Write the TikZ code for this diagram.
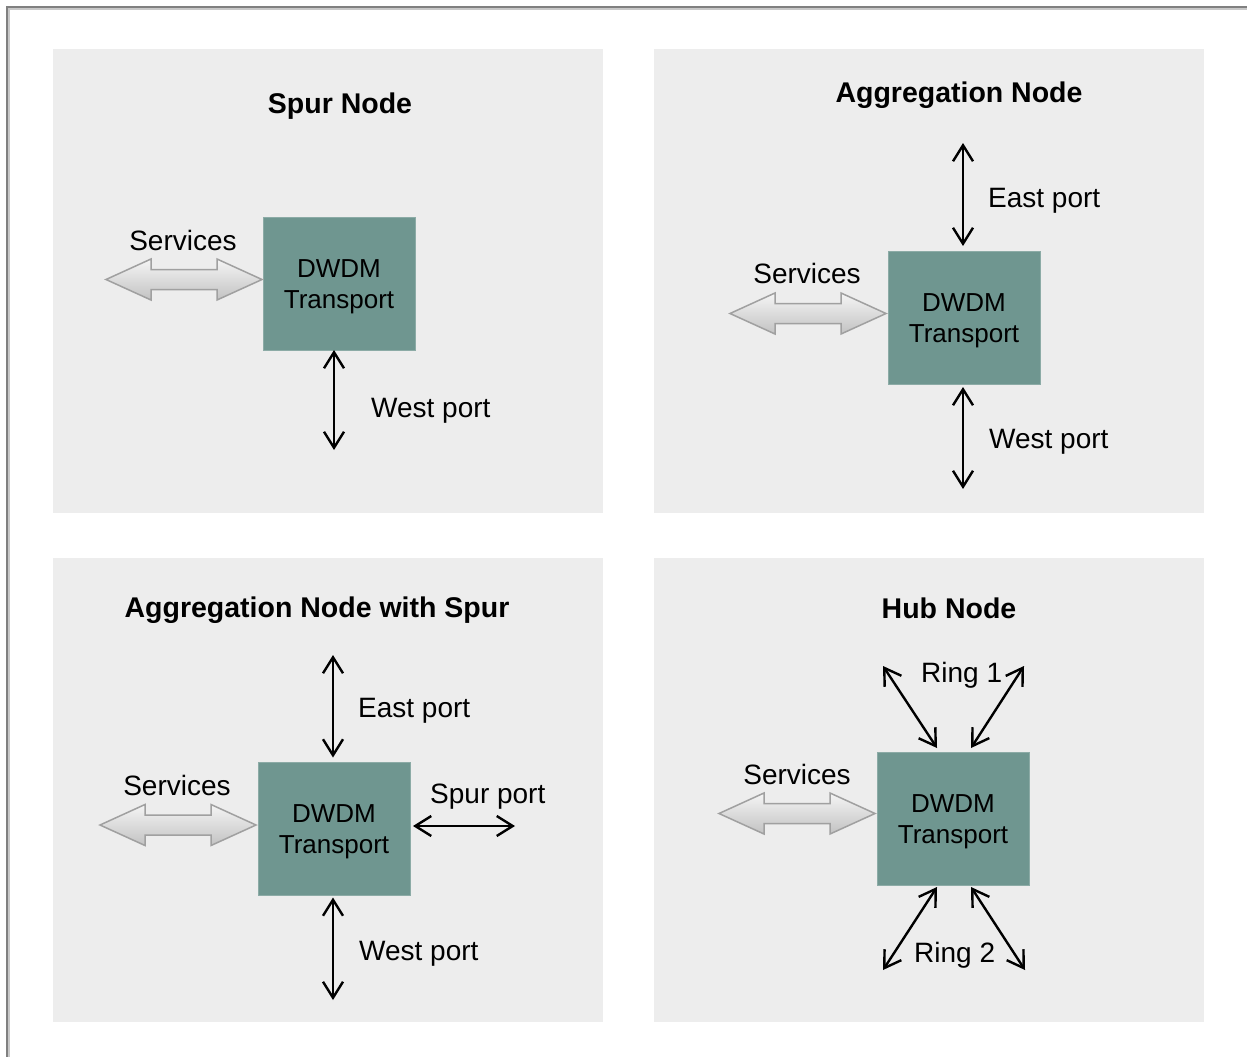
\documentclass[tikz,border=0pt]{standalone}
\usepackage{fontspec}
\setmainfont{Liberation Sans}
\usetikzlibrary{arrows.meta,calc}

\definecolor{panelgray}{HTML}{EDEDED}
\definecolor{dwdm}{HTML}{6F9690}
\definecolor{dwdmedge}{HTML}{8CABA6}
\definecolor{framedark}{HTML}{808080}
\definecolor{framelight}{HTML}{C8C8C8}
\definecolor{svcedge}{HTML}{A0A0A0}
\definecolor{svctop}{HTML}{F5F5F5}
\definecolor{svcbot}{HTML}{C2C2C2}

\tikzset{
  panel/.style={fill=panelgray},
  dwdmbox/.style={rectangle, fill=dwdm, draw=dwdmedge, line width=1pt,
    minimum width=152pt, minimum height=133pt, inner sep=0pt, outer sep=0pt},
  boxtext/.style={align=center, inner sep=0pt, font=\fontsize{26}{31}\selectfont},
  paneltitle/.style={anchor=base, inner sep=0pt, font=\fontsize{28.5}{34}\selectfont\bfseries},
  lbl/.style={anchor=base west, inner sep=0pt, font=\fontsize{28}{34}\selectfont},
  lblc/.style={anchor=base, inner sep=0pt, font=\fontsize{28}{34}\selectfont},
  port/.style={line width=2.4pt,
    {Straight Barb[length=16pt,width=20pt]}-{Straight Barb[length=16pt,width=20pt]}},
  % double-headed block arrow, right tip at the pic origin
  svcarrow/.pic={
    \path[draw=svcedge, line width=1.5pt, top color=svctop, bottom color=svcbot]
      (0,0) -- (-45,-20.5) -- (-45,-10) -- (-111,-10) -- (-111,-20.5) -- (-156,0)
      -- (-111,20.5) -- (-111,10) -- (-45,10) -- (-45,20.5) -- cycle;
  }
}

\begin{document}
\begin{tikzpicture}[x=1pt,y=-1pt]
\useasboundingbox (0,0) rectangle (1247,1057);
\clip (0,0) rectangle (1247,1057);

% outer frame
\draw[framedark, line width=2.2pt] (7,7) rectangle (1300,1100);
\draw[framelight, line width=2pt] (9.2,9.2) rectangle (1298,1098);

% panels
\fill[panel] (53,49) rectangle (603,513);
\fill[panel] (654,49) rectangle (1204,513);
\fill[panel] (53,558) rectangle (603,1022);
\fill[panel] (654,558) rectangle (1204,1022);

% ---------- Spur Node ----------
\node[paneltitle] (tSpur) at (340,113) {Spur Node};
\node[dwdmbox] (bTL) at (339,283.5) {};
\node[boxtext] (xTL) at ($(bTL)+(0,3)$) {DWDM\\Transport};
\pic (sTL) at ($(bTL.west)+(-1,-4)$) {svcarrow};
\node[lblc] (svTL) at (183,250) {Services};
\coordinate (wTL) at (334,450);
\draw[port] (wTL |- bTL.south) -- (wTL);
\node[lbl] (wlTL) at (371,417) {West port};

% ---------- Aggregation Node ----------
\node[paneltitle] (tAgg) at (959,102) {Aggregation Node};
\node[dwdmbox] (bTR) at (964,317.5) {};
\node[boxtext] (xTR) at ($(bTR)+(0,3)$) {DWDM\\Transport};
\pic (sTR) at ($(bTR.west)+(-2,-4)$) {svcarrow};
\node[lblc] (svTR) at (807,283) {Services};
\coordinate (eTR) at (963,143);
\draw[port] (eTR) -- ($(eTR |- bTR.north)+(0,-5)$);
\node[lbl] (elTR) at (988,207) {East port};
\coordinate (wTR) at (963,489);
\draw[port] ($(wTR |- bTR.south)+(0,3)$) -- (wTR);
\node[lbl] (wlTR) at (989,448) {West port};

% ---------- Aggregation Node with Spur ----------
\node[paneltitle] (tAggS) at (317,617) {Aggregation Node with Spur};
\node[dwdmbox] (bBL) at (334,829) {};
\node[boxtext] (xBL) at ($(bBL)+(0,3)$) {DWDM\\Transport};
\pic (sBL) at ($(bBL.west)+(-2,-4)$) {svcarrow};
\node[lblc] (svBL) at (177,795) {Services};
\coordinate (eBL) at (333,655);
\draw[port] (eBL) -- ($(eBL |- bBL.north)+(0,-5)$);
\node[lbl] (elBL) at (358,717) {East port};
\coordinate (wBL) at (333,1000);
\draw[port] ($(wBL |- bBL.south)+(0,2)$) -- (wBL);
\node[lbl] (wlBL) at (359,960) {West port};
\coordinate (spBL) at (515,826);
\draw[port] ($(spBL -| bBL.east)+(3,0)$) -- (spBL);
\node[lbl] (splBL) at (430,803) {Spur port};

% ---------- Hub Node ----------
\node[paneltitle] (tHub) at (949,618) {Hub Node};
\node[dwdmbox] (bBR) at (953,818.5) {};
\node[boxtext] (xBR) at ($(bBR)+(0,3)$) {DWDM\\Transport};
\pic (sBR) at ($(bBR.west)+(-2,-5)$) {svcarrow};
\node[lblc] (svBR) at (797,784) {Services};
\coordinate (r1a) at (883,666);
\coordinate (r1b) at (1024,666);
\coordinate (r2a) at (883,970);
\coordinate (r2b) at (1025,970);
\draw[port] (r1a) -- ($(bBR.north)+(-16,-4)$);
\draw[port] (r1b) -- ($(bBR.north)+(18,-4)$);
\draw[port] ($(bBR.south)+(-16,2)$) -- (r2a);
\draw[port] ($(bBR.south)+(18,2)$) -- (r2b);
\node[lbl] (r1l) at (921,682) {Ring 1};
\node[lbl] (r2l) at (914,962) {Ring 2};
\end{tikzpicture}
\end{document}
